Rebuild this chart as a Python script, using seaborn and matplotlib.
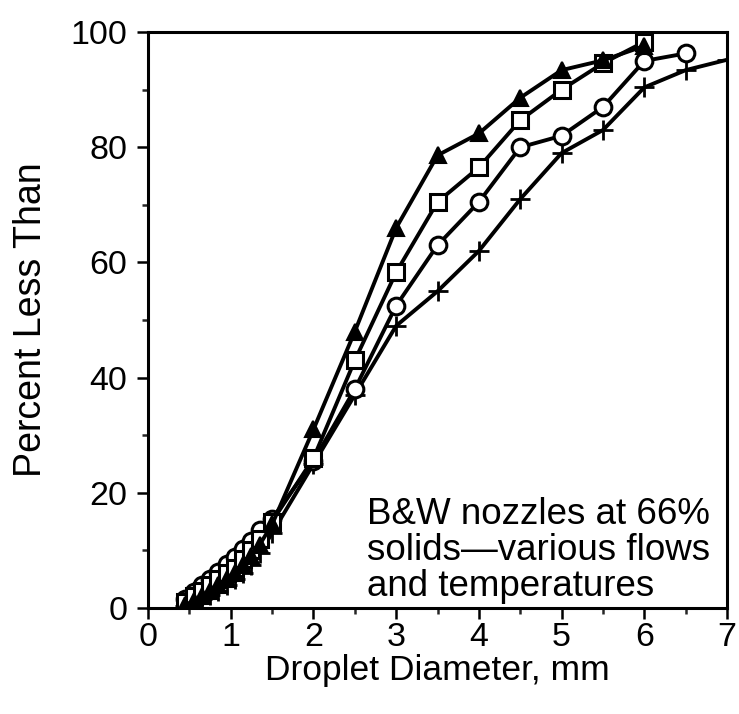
import matplotlib
matplotlib.use("Agg")
import matplotlib.pyplot as plt
import seaborn as sns
import pandas as pd
from matplotlib.ticker import MultipleLocator

sns.set_theme(style="white")
plt.rcParams['font.family'] = ['Liberation Sans', 'DejaVu Sans']

low_x = [0.45, 0.55, 0.65, 0.75, 0.85, 0.95, 1.05, 1.15, 1.25, 1.35, 1.5]
high_x = [2.0, 2.5, 3.0, 3.5, 4.0, 4.5, 5.0, 5.5, 6.0, 6.5, 7.0]

circle_x = low_x + high_x[:10]
circle_y = [1.5, 2.8, 4.0, 5.0, 6.3, 7.6, 8.8, 10.3, 11.6, 13.5, 15.5,
            25.5, 38, 52.5, 63, 70.5, 80, 82, 87, 95, 96.3]

square_x = low_x + high_x[:9]
square_y = [1.0, 2.0, 3.0, 4.0, 5.0, 6.0, 7.0, 8.5, 10, 12, 15,
            26, 43, 58.3, 70.5, 76.5, 84.7, 90, 94.6, 98.3]

triangle_x = low_x + high_x[:9]
triangle_y = [0.5, 1.2, 2.0, 3.0, 4.0, 5.0, 6.0, 7.5, 9.0, 11, 14.5,
              31, 48, 66, 78.6, 82.4, 88.6, 93.4, 95.1, 97.6]

plus_x = low_x + high_x
plus_y = [0.3, 0.8, 1.5, 2.3, 3.0, 4.0, 5.0, 6.0, 7.5, 9.5, 13,
          25, 37, 49, 55, 62, 71, 79, 83, 90.4, 93.4, 95.2]

xticks = [0, 1, 2, 3, 4, 5, 6, 7]
yticks = [0, 20, 40, 60, 80, 100]

fig = plt.figure(figsize=(7.39, 7.14), dpi=100)
ax = fig.add_axes([0.2003, 0.1485, 0.7835, 0.8065])

series = [
    (plus_x, plus_y, dict(marker='+', markersize=14, markeredgewidth=2.0)),
    (circle_x, circle_y, dict(marker='o', markersize=12, markerfacecolor='white', markeredgewidth=2.2)),
    (square_x, square_y, dict(marker='s', markersize=12, markerfacecolor='white', markeredgewidth=2.2)),
    (triangle_x, triangle_y, dict(marker='^', markersize=12, markerfacecolor='black', markeredgewidth=1.5)),
]
for xs, ys, kw in series:
    df = pd.DataFrame({'x': xs, 'y': ys})
    sns.lineplot(data=df, x='x', y='y', ax=ax, color='black', linewidth=2.8,
                 sort=False, markeredgecolor='black', **kw)

ax.set_xlim(0, 7)
ax.set_ylim(0, 100)
ax.set_xticks(xticks)
ax.set_yticks(yticks)
ax.xaxis.set_minor_locator(MultipleLocator(0.5))
ax.yaxis.set_minor_locator(MultipleLocator(10))
ax.tick_params(axis='both', which='major', direction='out', length=8, width=1.8,
               labelsize=24.5, colors='black', bottom=True, left=True)
ax.tick_params(axis='x', which='major', pad=2)
ax.tick_params(axis='y', which='major', pad=7)
ax.tick_params(axis='both', which='minor', direction='out', length=4.5, width=1.8,
               bottom=True, left=True)
for s in ax.spines.values():
    s.set_visible(True)
    s.set_color('black')
    s.set_linewidth(2.2)

ax.set_xlabel('Droplet Diameter, mm', fontsize=25.5, labelpad=1, color='black')
ax.set_ylabel('Percent Less Than', fontsize=27, labelpad=15, color='black')

ax.text(0.378, 0.10, 'B&W nozzles at 66%\nsolids\u2014various flows\nand temperatures',
        transform=ax.transAxes, fontsize=26.5, color='black', ha='left', va='center',
        linespacing=1.05)

fig.savefig('out.png', dpi=100)
